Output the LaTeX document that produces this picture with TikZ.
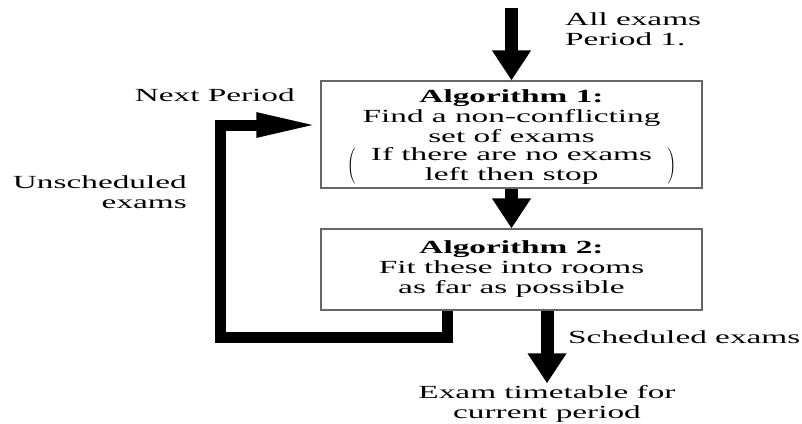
\documentclass[tikz,border=0pt]{standalone}
\usepackage{fontspec}
\setmainfont[FakeStretch=1.8]{Liberation Serif}
\usetikzlibrary{arrows.meta}

\begin{document}
\begin{tikzpicture}[x=1pt, y=-1pt]
    \tikzset{
      algbox/.style={rectangle, draw=black!60, line width=1.2pt,
                     minimum width=381pt, align=center, inner sep=0pt,
                     font=\fontsize{18.5}{20}\selectfont},
      label/.style={inner sep=2pt, font=\fontsize{18.5}{20}\selectfont},
      flow/.style={line width=13pt, -{Triangle[length=30pt, width=37pt]}},
      back/.style={line width=11pt, -{Triangle[length=64pt, width=22pt]}}
    }
    \useasboundingbox (0,0) rectangle (802,423);

    \node[algbox, minimum height=107pt] (alg1) at (511.5,134.5)
      {\textbf{Algorithm 1:}\\Find a non-conflicting\\set of exams\\[8pt]
       \raisebox{0pt}[10pt][9pt]{$\left(\rule[-14pt]{0pt}{38pt}\parbox{312pt}{\centering
       If there are no exams\\left then stop}\right)$}};
    \node[algbox, minimum height=81pt] (alg2) at (511.5,269.5)
      {\textbf{Algorithm 2:}\\Fit these into rooms\\as far as possible};

    \coordinate (start) at (511.5,8);
    \node[label, anchor=north west, align=left] (input) at (563,10)
      {All exams\\Period 1.};
    \node[label, anchor=east] (next) at (297,95) {Next Period};
    \node[label, anchor=east, align=right] (unsched) at (189,192)
      {Unscheduled\\exams};
    \node[label, anchor=west] (sched) at (566,337) {Scheduled exams};
    \node[label, align=center] (timetable) at (547,404)
      {Exam timetable for\\current period};

    % Flechas
    \draw[flow] (start) -- (alg1.north);
    \draw[flow] (alg1.south) -- (alg2.north);
    \draw[flow] ([xshift=35.5pt]alg2.south) -- (timetable.north);
    \draw[back] ([xshift=-64.5pt]alg2.south) |- (220,337)
      |- ([yshift=9.5pt]alg1.west);
  \end{tikzpicture}
\end{document}
